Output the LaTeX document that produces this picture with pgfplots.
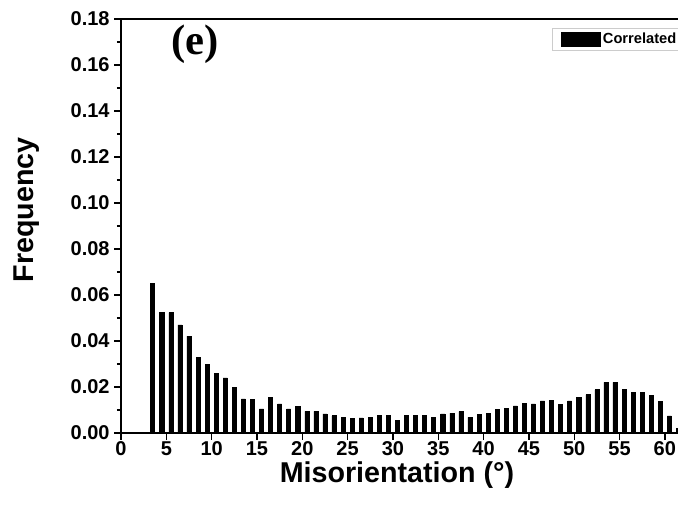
\documentclass[border=0pt]{standalone}
\usepackage{pgfplots}
\pgfplotsset{compat=1.18}
\usepackage{fontspec}
\setmainfont{Liberation Sans}
\newfontfamily\timesfont{Liberation Serif}

\pgfplotstableread{
deg  freq
3.5  0.0652
4.5  0.0523
5.5  0.0523
6.5  0.0470
7.5  0.0421
8.5  0.0328
9.5  0.0299
10.5 0.0258
11.5 0.0240
12.5 0.0198
13.5 0.0148
14.5 0.0146
15.5 0.0105
16.5 0.0156
17.5 0.0127
18.5 0.0105
19.5 0.0116
20.5 0.0094
21.5 0.0094
22.5 0.0083
23.5 0.0075
24.5 0.0068
25.5 0.0065
26.5 0.0066
27.5 0.0068
28.5 0.0078
29.5 0.0078
30.5 0.0055
31.5 0.0075
32.5 0.0078
33.5 0.0075
34.5 0.0068
35.5 0.0083
36.5 0.0086
37.5 0.0093
38.5 0.0068
39.5 0.0082
40.5 0.0086
41.5 0.0102
42.5 0.0106
43.5 0.0118
44.5 0.0129
45.5 0.0127
46.5 0.0140
47.5 0.0141
48.5 0.0123
49.5 0.0140
50.5 0.0155
51.5 0.0167
52.5 0.0188
53.5 0.0220
54.5 0.0220
55.5 0.0188
56.5 0.0178
57.5 0.0178
58.5 0.0165
59.5 0.0137
60.5 0.0074
61.5 0.0020
}\correlated

\begin{document}
\begin{tikzpicture}
\begin{axis}[
  at={(0,0)}, anchor=south west,
  scale only axis,
  width=417.75pt, height=310.5pt,
  xmin=0, xmax=61.45,
  ymin=0, ymax=0.18,
  axis y line*=left,
  axis line style={line width=1.2pt},
  xtick={0,5,...,60},
  ytick={0,0.02,...,0.18},
  xtick pos=bottom, ytick pos=left,
  minor y tick num=1,
  tick align=outside,
  major tick length=5pt,
  minor tick length=3pt,
  tick style={line width=1pt, black},
  yticklabel style={/pgf/number format/.cd, fixed, fixed zerofill, precision=2},
  xticklabel style={yshift=2pt},
  /pgf/number format/assume math mode=true,
  ticklabel style={font=\fontsize{15}{16}\selectfont\bfseries},
  xlabel={Misorientation (°)},
  ylabel={Frequency},
  label style={font=\fontsize{21.5}{23}\selectfont\bfseries},
  xlabel style={at={(rel axis cs:0.4955,-0.058)}, anchor=north},
  ylabel style={at={(rel axis cs:-0.169,0.539)}, anchor=center},
  legend style={at={(rel axis cs:0.774,0.978)}, anchor=north west,
    draw=gray!40, fill=white, font=\fontsize{11}{12}\selectfont\bfseries,
    inner sep=1.5pt, row sep=0pt},
  legend image code/.code={\path (0pt,0pt); \fill[black] (5pt,-5.5pt) rectangle (34pt,5.5pt);},
  clip=true,
]
\addplot[ybar, bar width=0.45, fill=black, draw=black] table[x=deg, y=freq] {\correlated};
\addlegendentry{Correlated}
\node[font=\timesfont\fontsize{32}{34}\selectfont\bfseries] at (axis cs:8.2,0.169) {(e)};
\end{axis}
\pgfresetboundingbox
\path (-90.75pt,-56.25pt) rectangle (417.75pt,324.75pt);
\end{tikzpicture}
\end{document}
